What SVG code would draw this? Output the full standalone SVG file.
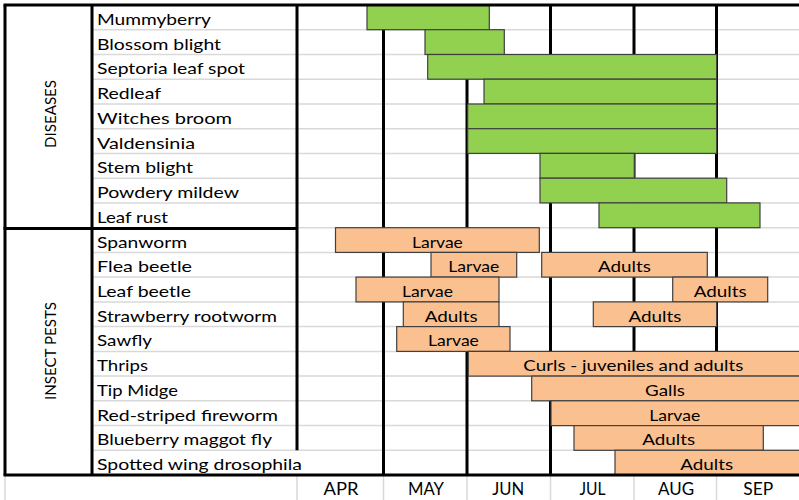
<svg xmlns="http://www.w3.org/2000/svg" width="799" height="500" viewBox="0 0 799 500">
<style>
text { font-family: Lato, "Open Sans", "Liberation Sans", sans-serif; font-size: 16px; fill: #000; }
.m { text-anchor: middle; }
.mo { text-anchor: middle; font-size: 17px; }
.g { fill: #92d050; stroke: #404040; stroke-width: 1.2; }
.o { fill: #fac090; stroke: #404040; stroke-width: 1.2; }
.grid { stroke: #d9d9d9; stroke-width: 1.5; fill: none; }
.k { stroke: #000; stroke-width: 3; fill: none; }
</style>
<rect x="0" y="0" width="799" height="500" fill="#fff"/>
<g id="gridlines">
<path class="grid" d="M92 29.7H799M92 54.5H799M92 79.2H799M92 104H799M92 128.7H799M92 153.4H799M92 178.2H799M92 202.9H799M297 227.7H799M92 252.4H799M92 277.1H799M92 301.9H799M92 326.6H799M92 351.4H799M92 376.1H799M92 400.8H799M92 425.6H799M92 450.3H799"/>
<path class="grid" d="M5 475V500M297 475V500M383.5 475V500M467 475V500M550.5 475V500M634 475V500M716.5 475V500"/>
</g>
<g id="frame-vertical">
<path class="k" d="M5 5V475M92 5V475M297 5V450.3M383.5 5V475M467 5V475M550.5 5V475M634 5V475M716.5 5V475"/>
</g>
<g id="diseases">
<g id="mummyberry"><rect class="g" x="367" y="5" width="122.3" height="24.7"/><text x="97" y="24.8" textLength="114" lengthAdjust="spacingAndGlyphs">Mummyberry</text></g>
<g id="blossom-blight"><rect class="g" x="425" y="29.7" width="79.3" height="24.8"/><text x="97" y="49.5" textLength="124" lengthAdjust="spacingAndGlyphs">Blossom blight</text></g>
<g id="septoria"><rect class="g" x="427.7" y="54.5" width="289" height="24.7"/><text x="97" y="74.3" textLength="148" lengthAdjust="spacingAndGlyphs">Septoria leaf spot</text></g>
<g id="redleaf"><rect class="g" x="484" y="79.2" width="232.7" height="24.8"/><text x="97" y="99" textLength="64" lengthAdjust="spacingAndGlyphs">Redleaf</text></g>
<g id="witches-broom"><rect class="g" x="467.7" y="104" width="249" height="24.7"/><text x="97" y="123.8" textLength="135" lengthAdjust="spacingAndGlyphs">Witches broom</text></g>
<g id="valdensinia"><rect class="g" x="467.7" y="128.7" width="249" height="24.7"/><text x="97" y="148.5" textLength="98" lengthAdjust="spacingAndGlyphs">Valdensinia</text></g>
<g id="stem-blight"><rect class="g" x="540" y="153.4" width="94.3" height="24.8"/><text x="97" y="173.2" textLength="96" lengthAdjust="spacingAndGlyphs">Stem blight</text></g>
<g id="powdery-mildew"><rect class="g" x="540" y="178.2" width="186.7" height="24.7"/><text x="97" y="198" textLength="142" lengthAdjust="spacingAndGlyphs">Powdery mildew</text></g>
<g id="leaf-rust"><rect class="g" x="599" y="202.9" width="161" height="24.8"/><text x="97" y="222.7" textLength="71" lengthAdjust="spacingAndGlyphs">Leaf rust</text></g>
</g>
<g id="insect-pests">
<g id="spanworm"><rect class="o" x="335.5" y="227.7" width="203.8" height="24.7"/><text class="m" x="437.4" y="247.5" textLength="51" lengthAdjust="spacingAndGlyphs">Larvae</text><text x="97" y="247.5" textLength="90" lengthAdjust="spacingAndGlyphs">Spanworm</text></g>
<g id="flea-beetle"><rect class="o" x="431" y="252.4" width="85.7" height="24.7"/><text class="m" x="473.8" y="272.2" textLength="51" lengthAdjust="spacingAndGlyphs">Larvae</text><rect class="o" x="541.7" y="252.4" width="165.6" height="24.7"/><text class="m" x="624.5" y="272.2" textLength="53" lengthAdjust="spacingAndGlyphs">Adults</text><text x="97" y="272.2" textLength="95" lengthAdjust="spacingAndGlyphs">Flea beetle</text></g>
<g id="leaf-beetle"><rect class="o" x="356" y="277.1" width="143" height="24.8"/><text class="m" x="427.5" y="296.9" textLength="51" lengthAdjust="spacingAndGlyphs">Larvae</text><rect class="o" x="672.7" y="277.1" width="95" height="24.8"/><text class="m" x="720.2" y="296.9" textLength="53" lengthAdjust="spacingAndGlyphs">Adults</text><text x="97" y="296.9" textLength="94" lengthAdjust="spacingAndGlyphs">Leaf beetle</text></g>
<g id="strawberry-rootworm"><rect class="o" x="403.3" y="301.9" width="95.7" height="24.7"/><text class="m" x="451.2" y="321.7" textLength="53" lengthAdjust="spacingAndGlyphs">Adults</text><rect class="o" x="593.3" y="301.9" width="123.4" height="24.7"/><text class="m" x="655" y="321.7" textLength="53" lengthAdjust="spacingAndGlyphs">Adults</text><text x="97" y="321.7" textLength="180" lengthAdjust="spacingAndGlyphs">Strawberry rootworm</text></g>
<g id="sawfly"><rect class="o" x="396.7" y="326.6" width="113.3" height="24.8"/><text class="m" x="453.4" y="346.4" textLength="51" lengthAdjust="spacingAndGlyphs">Larvae</text><text x="97" y="346.4" textLength="55" lengthAdjust="spacingAndGlyphs">Sawfly</text></g>
<g id="thrips"><rect class="o" x="468.3" y="351.4" width="340" height="24.7"/><text class="m" x="633.3" y="371.2" textLength="220" lengthAdjust="spacingAndGlyphs">Curls - juveniles and adults</text><text x="97" y="371.2" textLength="51" lengthAdjust="spacingAndGlyphs">Thrips</text></g>
<g id="tip-midge"><rect class="o" x="531.7" y="376.1" width="280" height="24.7"/><text class="m" x="665" y="395.9" textLength="40" lengthAdjust="spacingAndGlyphs">Galls</text><text x="97" y="395.9" textLength="81" lengthAdjust="spacingAndGlyphs">Tip Midge</text></g>
<g id="red-striped-fireworm"><rect class="o" x="551" y="400.8" width="260" height="24.8"/><text class="m" x="674.7" y="420.6" textLength="51" lengthAdjust="spacingAndGlyphs">Larvae</text><text x="97" y="420.6" textLength="181" lengthAdjust="spacingAndGlyphs">Red-striped fireworm</text></g>
<g id="blueberry-maggot-fly"><rect class="o" x="574" y="425.6" width="189.3" height="24.7"/><text class="m" x="668.7" y="445.4" textLength="53" lengthAdjust="spacingAndGlyphs">Adults</text><text x="97" y="445.4" textLength="175" lengthAdjust="spacingAndGlyphs">Blueberry maggot fly</text></g>
<g id="spotted-wing-drosophila"><rect class="o" x="615" y="450.3" width="200" height="24.7"/><text class="m" x="706.7" y="470.1" textLength="53" lengthAdjust="spacingAndGlyphs">Adults</text><text x="97" y="470.1" textLength="205" lengthAdjust="spacingAndGlyphs">Spotted wing drosophila</text></g>
</g>
<g id="frame-horizontal">
<path class="k" d="M3.5 5H799M3.5 228.5H297M3.5 475H799"/>
</g>
<g id="categories">
<text class="m" transform="translate(55.5,114) rotate(-90)" textLength="68" lengthAdjust="spacingAndGlyphs">DISEASES</text>
<text class="m" transform="translate(55.5,351) rotate(-90)" textLength="98" lengthAdjust="spacingAndGlyphs">INSECT PESTS</text>
</g>
<g id="months">
<text class="mo" x="341" y="495" textLength="35" lengthAdjust="spacingAndGlyphs">APR</text>
<text class="mo" x="426" y="495" textLength="36" lengthAdjust="spacingAndGlyphs">MAY</text>
<text class="mo" x="508.3" y="495" textLength="32" lengthAdjust="spacingAndGlyphs">JUN</text>
<text class="mo" x="592.5" y="495" textLength="26" lengthAdjust="spacingAndGlyphs">JUL</text>
<text class="mo" x="676" y="495" textLength="36" lengthAdjust="spacingAndGlyphs">AUG</text>
<text class="mo" x="758.3" y="495" textLength="30" lengthAdjust="spacingAndGlyphs">SEP</text>
</g>
</svg>
